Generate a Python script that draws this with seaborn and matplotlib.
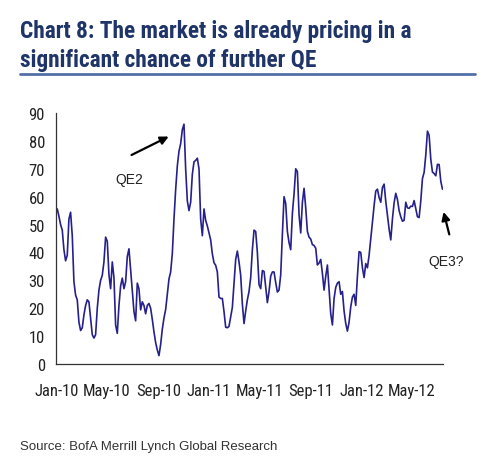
import pandas as pd
import matplotlib
matplotlib.use("Agg")
import matplotlib.pyplot as plt
import matplotlib.dates as mdates
from matplotlib import font_manager as fm
import seaborn as sns

# 가격에 반영된 추가 QE 확률
start_date = "2010-01-02"
end_date = "2012-07-13"
qe_values = [
    55.6, 53, 50, 48, 41, 37, 39, 52, 54.4, 46, 29.5, 24.7, 23, 15, 12, 13, 17.6, 21, 23, 22.3,
    16.4, 10.5, 9.3, 10.5, 20, 26.5, 30, 31.8, 36.6, 45.5, 44, 32, 27, 36.6, 31, 14, 11, 21,
    28, 30.8, 27, 29.5, 38.5, 41.3, 34, 26.3, 18.8, 15.5, 29, 27, 19.4, 22.3, 21, 18, 21, 21.7,
    20, 16, 11.5,
    7.7, 5, 3, 7, 12.5, 16.5, 19.5, 25, 30.5, 33, 39.6, 52, 62.5, 71, 76.3, 79, 84, 86, 70,
    58.5, 55, 58, 68, 72.5, 73, 73.8, 70, 52, 46, 55.6, 51.5, 49.5, 47, 44.5, 39.5, 36.3,
    35.4, 33, 24, 23.5, 23.5, 18.8, 13.2, 13, 13.5, 17, 20.3, 29, 37.5, 40.5, 36.6, 31.8,
    21.5, 14.5, 19, 23, 26,
    31, 41, 48, 47.5, 40, 28.5, 27, 33.5, 33.2, 27.5, 22, 26, 31.5, 33, 33, 29.2, 25.8, 26.5,
    32, 46.5, 60, 57.5, 47.5, 43.5, 41, 54, 61, 70, 69, 53.5, 47, 58, 63, 56, 47.5, 45.5,
    44.8, 42.8, 42.5, 41.5, 35.5, 36.2, 37.5, 32.5, 26.5, 31.5, 35.5, 26.5, 18, 14, 23.5,
    27.5, 29, 29.5, 25,
    26, 19, 14.5, 11.8, 15, 20.5, 24, 25, 21, 31.5, 40.3, 40, 34.5, 31, 36, 34.5, 39, 44.8,
    50.8, 56.8, 62, 62.7, 59.7, 58, 63.3, 64.5, 58.3, 53.4, 48.4, 44.5, 52, 57.8, 61.2, 59,
    55, 52.8, 51.2, 51.5, 58, 56, 55.8, 56.6, 56.5, 58.6, 55.6, 52.8, 52.5, 58.5, 66.5, 68.7,
    75, 83.5, 82, 73.4, 68.8, 68.3, 67.5, 71.6, 71.5, 65.5, 62.7,
]

df = pd.DataFrame({
    "date": pd.date_range(start_date, end_date, periods=len(qe_values)),
    "value": qe_values,
})

sns.set_style("white")
plt.rcParams["font.family"] = ["Liberation Sans", "DejaVu Sans"]


# 좁은 글꼴 찾기 (Arial Narrow 비슷한 것)
def narrow_font(bold):
    prefs = ["liberationsansnarrow", "robotocondensed", "dejavusanscondensed"]
    found = []
    for f in fm.fontManager.ttflist:
        key = f.fname.lower().replace("-", "").replace("_", "")
        if "italic" in key or "oblique" in key:
            continue
        is_bold = "bold" in key
        if is_bold != bold:
            continue
        for rank, p in enumerate(prefs):
            if p in key and "light" not in key and "medium" not in key:
                found.append((rank, f.fname))
    if found:
        return fm.FontProperties(fname=sorted(found)[0][1])
    return fm.FontProperties(family=["Liberation Sans", "DejaVu Sans"],
                             weight="bold" if bold else "normal")


title_fp = narrow_font(True)
tick_fp = narrow_font(False)

fig = plt.figure(figsize=(5, 4.77), dpi=100)
ax = fig.add_axes([0.112, 0.2348, 0.7746, 0.5262])

sns.lineplot(data=df, x="date", y="value", ax=ax, color="#25208c", linewidth=1.2)

ax.set_ylim(0, 90)
ax.set_yticks(range(0, 91, 10))
ax.set_xlim(pd.Timestamp("2009-12-30"), pd.Timestamp("2012-07-15"))
ax.xaxis.set_major_locator(mdates.MonthLocator(bymonth=[1, 5, 9]))
ax.xaxis.set_major_formatter(mdates.DateFormatter("%b-%y"))
ax.set_xlabel("")
ax.set_ylabel("")

for side in ["top", "right"]:
    ax.spines[side].set_visible(False)
for side in ["left", "bottom"]:
    ax.spines[side].set_color("#333333")
    ax.spines[side].set_linewidth(0.9)

ax.tick_params(axis="y", length=5, width=0.8, color="#333333", pad=3, labelcolor="#222222")
ax.tick_params(axis="x", length=0, pad=14, labelcolor="#222222")
for lab in ax.get_xticklabels() + ax.get_yticklabels():
    lab.set_fontproperties(tick_fp)
    lab.set_fontsize(12)

# 주석: QE2, QE3?
ax.annotate("", xy=(pd.Timestamp("2010-10-02"), 82), xytext=(pd.Timestamp("2010-06-23"), 74.5),
            arrowprops=dict(arrowstyle="-|>", color="black", lw=1.6, mutation_scale=12))
ax.text(pd.Timestamp("2010-06-23"), 66.3, "QE2", ha="center", va="center", fontsize=10,
        color="#222222")
ax.annotate("", xy=(pd.Timestamp("2012-07-14"), 55.5), xytext=(pd.Timestamp("2012-07-31"), 45.5),
            arrowprops=dict(arrowstyle="-|>", color="black", lw=1.6, mutation_scale=12),
            annotation_clip=False)
ax.text(pd.Timestamp("2012-07-21"), 37, "QE3?", ha="center", va="center", fontsize=10,
        color="#222222", clip_on=False)

# 제목
t1 = fig.text(0.04, 0.935, "Chart 8: The market is already pricing in a",
              fontproperties=title_fp, color="#1f3468", ha="left", va="center")
t2 = fig.text(0.04, 0.873, "significant chance of further QE",
              fontproperties=title_fp, color="#1f3468", ha="left", va="center")
t1.set_fontsize(17)
t2.set_fontsize(17)
renderer = fig.canvas.get_renderer()
w = t1.get_window_extent(renderer).width
size = min(17 * 393 / w, 18)
t1.set_fontsize(size)
t2.set_fontsize(size)
fig.add_artist(plt.Line2D([0.04, 0.95], [0.843, 0.843], color="#5470a8", lw=2))

# 출처
fig.text(0.04, 0.063, "Source: BofA Merrill Lynch Global Research", fontsize=9.5,
         color="#333333", ha="left", va="center")

fig.savefig("out.png", dpi=100)
